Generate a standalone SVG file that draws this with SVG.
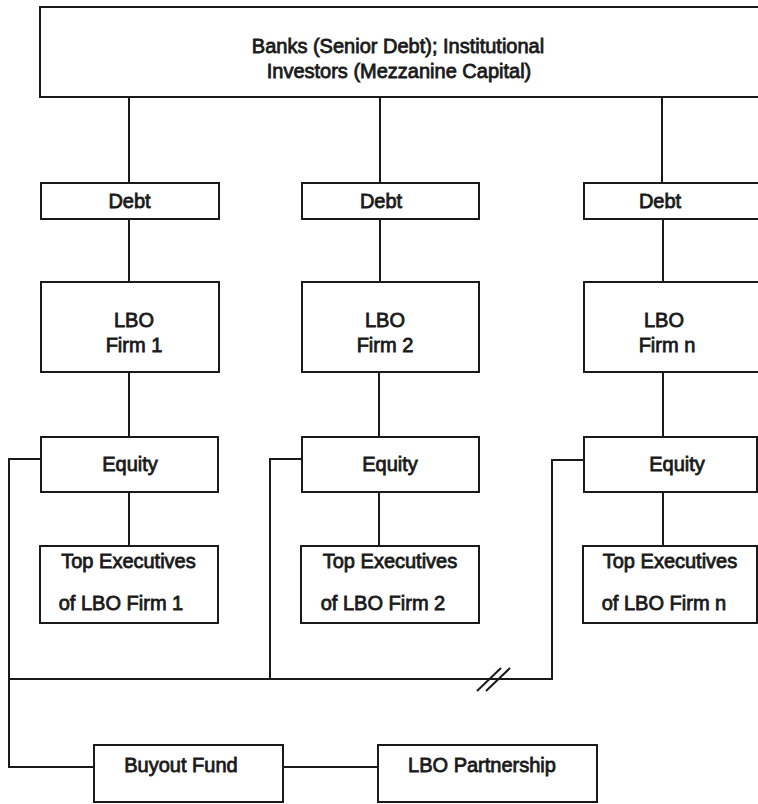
<svg xmlns="http://www.w3.org/2000/svg" width="758" height="804" viewBox="0 0 758 804">
<style>
.box{fill:#fff;stroke:#1a1a1a;stroke-width:2}
.ln{fill:none;stroke:#1a1a1a;stroke-width:2}
text{font-family:"Liberation Sans",Arial,sans-serif;font-size:20px;fill:#1a1a1a;stroke:#1a1a1a;stroke-width:0.8;text-anchor:middle}
</style>
<rect width="758" height="804" fill="#fff"/>
<g id="connectors">
<path class="ln" d="M129 97V183M380 97V183M662 97V183"/>
<path class="ln" d="M129 219V282M380 219V282M663 219V282"/>
<path class="ln" d="M129 372V437M379 372V437M663 372V437"/>
<path class="ln" d="M129 492V546M379 492V546M663 492V546"/>
<path class="ln" d="M41 459H9V767H94"/>
<path class="ln" d="M302 459H270V679"/>
<path class="ln" d="M584 460H552V679H9"/>
<path class="ln" d="M283 767H378"/>
<path class="ln" d="M477 691L501 668M486 691L510 668"/>
</g>
<g id="banks"><rect class="box" x="40" y="7" width="730" height="90"/>
<text x="398" y="53">Banks (Senior Debt); Institutional</text>
<text x="399" y="78">Investors (Mezzanine Capital)</text></g>
<g id="debt1"><rect class="box" x="41" y="183" width="178" height="36"/><text x="129.5" y="208">Debt</text></g>
<g id="debt2"><rect class="box" x="302" y="183" width="177" height="36"/><text x="381" y="208">Debt</text></g>
<g id="debt3"><rect class="box" x="584" y="183" width="190" height="36"/><text x="660" y="208">Debt</text></g>
<g id="firm1"><rect class="box" x="41" y="282" width="178" height="90"/><text x="134" y="327">LBO</text><text x="134" y="352">Firm 1</text></g>
<g id="firm2"><rect class="box" x="302" y="282" width="177" height="90"/><text x="385" y="327">LBO</text><text x="385" y="352">Firm 2</text></g>
<g id="firmn"><rect class="box" x="584" y="282" width="190" height="90"/><text x="664" y="327">LBO</text><text x="667" y="352">Firm n</text></g>
<g id="equity1"><rect class="box" x="41" y="437" width="177" height="55"/><text x="130" y="471">Equity</text></g>
<g id="equity2"><rect class="box" x="302" y="437" width="177" height="55"/><text x="390" y="471">Equity</text></g>
<g id="equityn"><rect class="box" x="584" y="437" width="173" height="55"/><text x="677" y="471">Equity</text></g>
<g id="exec1"><rect class="box" x="40" y="546" width="178" height="77"/><text x="128.5" y="568">Top Executives</text><text x="121" y="610">of LBO Firm 1</text></g>
<g id="exec2"><rect class="box" x="301" y="546" width="178" height="77"/><text x="390" y="568">Top Executives</text><text x="383" y="610">of LBO Firm 2</text></g>
<g id="execn"><rect class="box" x="583" y="546" width="174" height="77"/><text x="670" y="568">Top Executives</text><text x="664" y="610">of LBO Firm n</text></g>
<g id="buyout"><rect class="box" x="94" y="745" width="189" height="57"/><text x="181" y="772">Buyout Fund</text></g>
<g id="partnership"><rect class="box" x="378" y="745" width="219" height="57"/><text x="482" y="772">LBO Partnership</text></g>
</svg>
